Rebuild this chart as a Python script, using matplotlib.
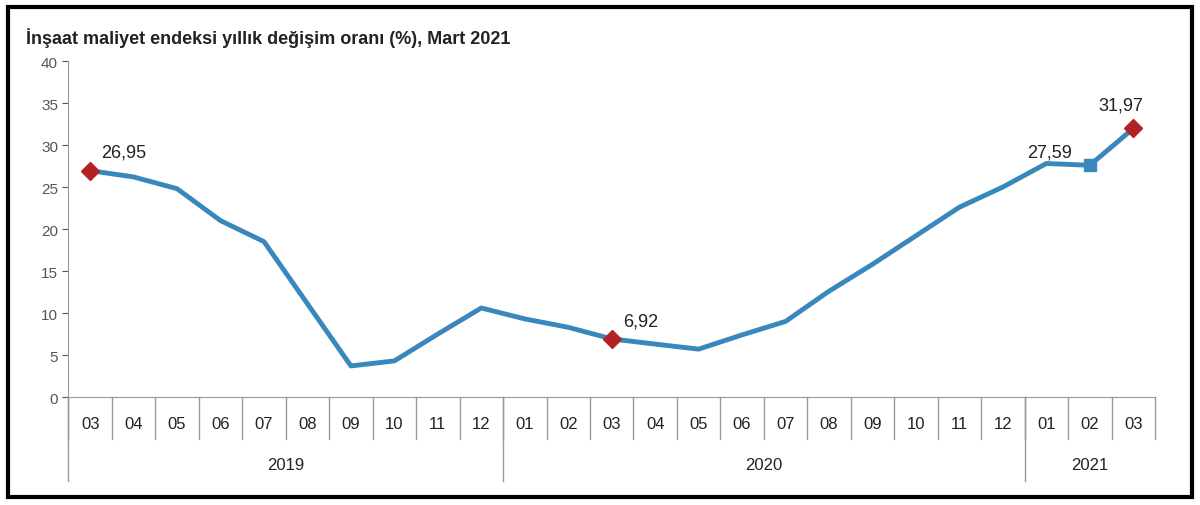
import matplotlib
matplotlib.use("Agg")
import matplotlib.pyplot as plt
from matplotlib.patches import Rectangle

plt.rcParams['font.family'] = ['Liberation Sans', 'DejaVu Sans']

months = ['03', '04', '05', '06', '07', '08', '09', '10', '11', '12',
          '01', '02', '03', '04', '05', '06', '07', '08', '09', '10', '11', '12',
          '01', '02', '03']
years = ['2019', '2020', '2021']
year_counts = [10, 12, 3]
values = [26.95, 26.2, 24.8, 21.0, 18.5, 11.1, 3.7, 4.3, 7.5, 10.6,
          9.3, 8.3, 6.92, 6.3, 5.7, 7.4, 9.0, 12.6, 15.8, 19.2, 22.6, 25.0,
          27.8, 27.59, 31.97]
labelled = {0: '26,95', 12: '6,92', 23: '27,59', 24: '31,97'}
red_pts = [0, 12, 24]

fig = plt.figure(figsize=(12, 5.06), dpi=100)
ax = fig.add_axes([0.057, 0.2134, 0.9055, 0.664])
x = list(range(len(values)))
ax.plot(x, values, color='#3a87bd', lw=3.5, zorder=2)
ax.plot(red_pts, [values[i] for i in red_pts], 'D',
        color='#b22222', ms=9, zorder=3)
ax.plot([23], [values[23]], 's', color='#3a87bd', ms=8, zorder=3)
for i, t in labelled.items():
    if i == 23:
        off = (-45, 6)
    elif i == 24:
        off = (-25, 14)
    else:
        off = (8, 10)
    ax.annotate(t, (i, values[i]), xytext=off, textcoords='offset points',
                fontsize=13, color='#222222')

ax.set_xlim(-0.5, len(values) - 0.5)
ax.set_ylim(0, 40)
ax.set_yticks(range(0, 41, 5))
ax.tick_params(axis='y', labelsize=11, colors='#555555', length=4)
ax.set_xticks([])
for s in ['top', 'right']:
    ax.spines[s].set_visible(False)
ax.spines['left'].set_color('#999999')
ax.spines['bottom'].set_color('#999999')

tr = ax.get_xaxis_transform()
for i, m in enumerate(months):
    ax.text(i, -0.08, m, transform=tr, ha='center', va='center', fontsize=12, color='#222222')
for i in range(len(months) + 1):
    ax.plot([i - 0.5, i - 0.5], [0, -0.125], transform=tr, color='#999999', lw=1, clip_on=False)
start = 0
for y, n in zip(years, year_counts):
    ax.text(start + (n - 1) / 2, -0.2, y, transform=tr, ha='center', va='center',
            fontsize=12, color='#222222')
    ax.plot([start - 0.5, start - 0.5], [0, -0.25], transform=tr, color='#999999', lw=1, clip_on=False)
    start += n

fig.text(0.022, 0.925, 'İnşaat maliyet endeksi yıllık değişim oranı (%), Mart 2021',
         fontsize=13, fontweight='bold', color='#222222', va='center')
fig.patches.append(Rectangle((0.007, 0.016), 0.986, 0.968, transform=fig.transFigure,
                             fill=False, edgecolor='black', lw=3))
fig.savefig('out.png', dpi=100)
